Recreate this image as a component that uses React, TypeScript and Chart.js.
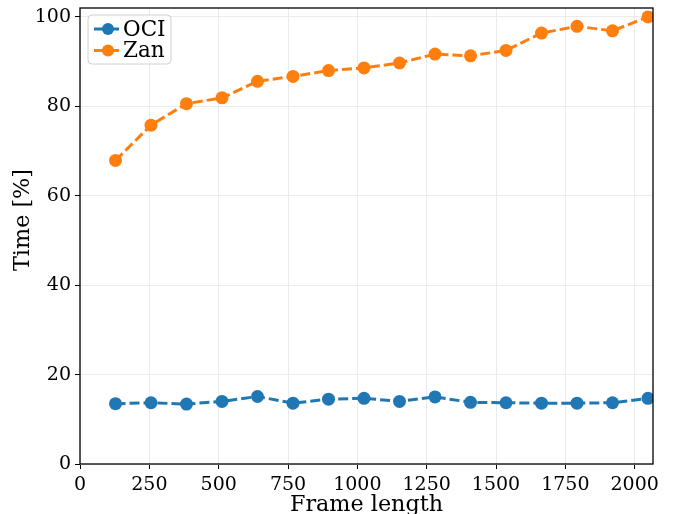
import React, { useEffect, useRef } from "react";
import { Chart, registerables } from "chart.js";

Chart.register(...registerables);

const frameLengths = [128, 256, 384, 512, 640, 768, 896, 1024, 1152, 1280, 1408, 1536, 1664, 1792, 1920, 2048];
const ociValues = [13.5, 13.7, 13.4, 14.0, 15.1, 13.6, 14.5, 14.7, 14.0, 15.0, 13.8, 13.7, 13.6, 13.6, 13.7, 14.7];
const zanValues = [67.9, 75.8, 80.6, 81.9, 85.6, 86.7, 88.0, 88.6, 89.7, 91.7, 91.3, 92.5, 96.4, 97.9, 96.9, 100.0];
const xTicks = [0, 250, 500, 750, 1000, 1250, 1500, 1750, 2000];
const yTicks = [0, 20, 40, 60, 80, 100];
const seriesNames = ["OCI", "Zan"];
const seriesColors = ["#1f77b4", "#ff7f0e"];
const xTitle = "Frame length";
const yTitle = "Time [%]";

const FONT = "'DejaVu Serif', serif";

const framePlugin = {
  id: "frameAndLegend",
  afterDatasetsDraw(chart: any) {
    const { ctx, chartArea } = chart;
    const { left, right, top, bottom } = chartArea;
    ctx.save();
    ctx.strokeStyle = "#000";
    ctx.lineWidth = 1.3;
    ctx.strokeRect(left, top, right - left, bottom - top);

    // y-axis title
    ctx.save();
    ctx.translate(23, 220);
    ctx.rotate(-Math.PI / 2);
    ctx.fillStyle = "#000";
    ctx.font = `22.3px ${FONT}`;
    ctx.textAlign = "center";
    ctx.textBaseline = "middle";
    ctx.fillText(yTitle, 0, 0);
    ctx.restore();

    // legend
    const bx = left + 8, by = top + 7, bw = 83, bh = 49;
    const r = 4;
    ctx.beginPath();
    ctx.moveTo(bx + r, by);
    ctx.lineTo(bx + bw - r, by);
    ctx.quadraticCurveTo(bx + bw, by, bx + bw, by + r);
    ctx.lineTo(bx + bw, by + bh - r);
    ctx.quadraticCurveTo(bx + bw, by + bh, bx + bw - r, by + bh);
    ctx.lineTo(bx + r, by + bh);
    ctx.quadraticCurveTo(bx, by + bh, bx, by + bh - r);
    ctx.lineTo(bx, by + r);
    ctx.quadraticCurveTo(bx, by, bx + r, by);
    ctx.closePath();
    ctx.fillStyle = "rgba(255,255,255,0.8)";
    ctx.fill();
    ctx.strokeStyle = "#d0d0d0";
    ctx.lineWidth = 1;
    ctx.stroke();

    const rows = [by + 14, by + 35.5];
    seriesNames.forEach((name, i) => {
      const y = rows[i];
      ctx.strokeStyle = seriesColors[i];
      ctx.lineWidth = 3;
      ctx.setLineDash([]);
      ctx.beginPath();
      ctx.moveTo(bx + 6, y);
      ctx.lineTo(bx + 31, y);
      ctx.stroke();
      ctx.fillStyle = seriesColors[i];
      ctx.beginPath();
      ctx.arc(bx + 20, y, 6, 0, Math.PI * 2);
      ctx.fill();
      ctx.fillStyle = "#000";
      ctx.font = `21.5px ${FONT}`;
      ctx.textBaseline = "middle";
      ctx.textAlign = "left";
      ctx.fillText(name, bx + 35, y + 1);
    });
    ctx.restore();
  },
};

export default function App() {
  const canvasRef = useRef<HTMLCanvasElement>(null);

  useEffect(() => {
    const canvas = canvasRef.current;
    if (!canvas) return;
    const values = [ociValues, zanValues];
    const chart = new Chart(canvas, {
      type: "line",
      data: {
        datasets: seriesNames.map((name, i) => ({
          label: name,
          data: frameLengths.map((x, j) => ({ x, y: values[i][j] })),
          borderColor: seriesColors[i],
          backgroundColor: seriesColors[i],
          borderWidth: 3,
          borderDash: [10, 4],
          pointRadius: 6.5,
          pointBorderWidth: 0,
          pointBackgroundColor: seriesColors[i],
          tension: 0,
          clip: 0,
        })),
      },
      options: {
        animation: false,
        responsive: false,
        layout: { padding: { top: 8, right: 27, left: 0, bottom: 0 } },
        plugins: {
          legend: { display: false },
          tooltip: { enabled: false },
        },
        scales: {
          x: {
            type: "linear",
            min: 0,
            max: 2066,
            afterBuildTicks: (scale: any) => {
              scale.ticks = xTicks.map((v) => ({ value: v }));
            },
            afterFit: (scale: any) => {
              scale.height = 50;
              scale.paddingLeft = 0;
              scale.paddingRight = 0;
            },
            border: { display: false },
            grid: { color: "#ebebeb", lineWidth: 1, tickColor: "#000", tickLength: 5, drawTicks: true },
            ticks: {
              color: "#000",
              font: { family: FONT, size: 19 },
              padding: 5,
              maxRotation: 0,
              autoSkip: false,
              callback: (v: any) => String(v),
            },
            title: {
              display: true,
              text: xTitle,
              color: "#000",
              font: { family: FONT, size: 22.3 },
              padding: { top: 0, bottom: -5 },
            },
          },
          y: {
            type: "linear",
            min: 0,
            max: 102,
            afterBuildTicks: (scale: any) => {
              scale.ticks = yTicks.map((v) => ({ value: v }));
            },
            afterFit: (scale: any) => {
              scale.width = 80;
              scale.paddingTop = 0;
              scale.paddingBottom = 0;
            },
            border: { display: false },
            grid: { color: "#ebebeb", lineWidth: 1, tickColor: "#000", tickLength: 5, drawTicks: true },
            ticks: {
              color: "#000",
              font: { family: FONT, size: 19 },
              padding: 4,
              autoSkip: false,
              callback: (v: any) => String(v),
            },
            title: { display: false },
          },
        },
      },
      plugins: [framePlugin],
    });
    return () => chart.destroy();
  }, []);

  return (
    <div style={{ position: "absolute", left: 0, top: 0, width: 680, height: 514, background: "#fff" }}>
      <canvas ref={canvasRef} width={680} height={514} />
    </div>
  );
}
